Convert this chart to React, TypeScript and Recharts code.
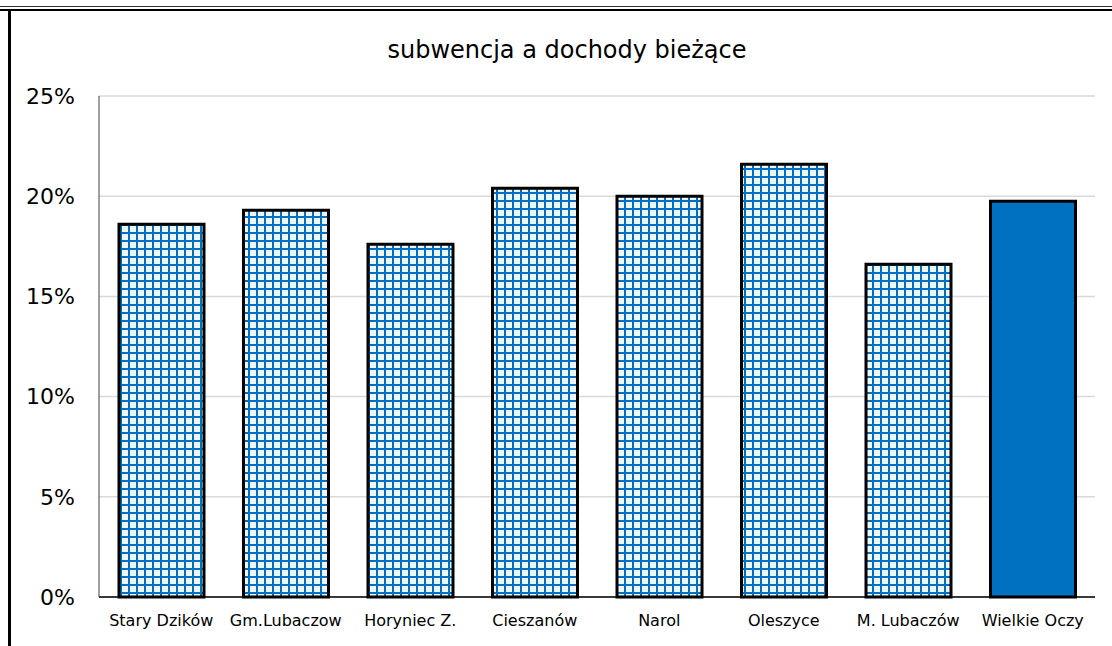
import React from 'react'
import { BarChart, Bar, XAxis, YAxis, CartesianGrid, Cell } from 'recharts'

const gminy = ['Stary Dzików', 'Gm.Lubaczow', 'Horyniec Z.', 'Cieszanów', 'Narol', 'Oleszyce', 'M. Lubaczów', 'Wielkie Oczy']
const udzial = [0.186, 0.193, 0.176, 0.204, 0.2, 0.216, 0.166, 0.1975]
const yTicks = [0, 0.05, 0.1, 0.15, 0.2, 0.25]

const data = gminy.map((name, i) => ({ name, value: udzial[i] }))

const FONT = '"DejaVu Sans", Tahoma, sans-serif'
const BLUE = '#0070C0'

export default function App() {
  return (
    <div style={{ position: 'fixed', left: 0, top: 0, width: 1112, height: 646, background: '#fff', overflow: 'hidden' }}>
      {/* frame lines */}
      <div style={{ position: 'absolute', left: 0, top: 6, width: 1112, height: 1, background: '#333' }} />
      <div style={{ position: 'absolute', left: 0, top: 9, width: 1112, height: 2, background: '#000' }} />
      <div style={{ position: 'absolute', left: 8, top: 9, width: 3, height: 700, background: '#000' }} />

      <div
        style={{
          position: 'absolute',
          left: 0,
          top: 35,
          width: 1134,
          textAlign: 'center',
          fontFamily: FONT,
          fontSize: 24,
          lineHeight: '30px',
          color: '#000'
        }}
      >
        subwencja a dochody bieżące
      </div>

      <BarChart
        width={1112}
        height={646}
        data={data}
        margin={{ top: 96, right: 17, bottom: 19, left: 0 }}
        barSize={85}
        style={{ position: 'absolute', left: 0, top: 0 }}
      >
        <defs>
          <pattern id="kratka" width="8" height="8" patternUnits="userSpaceOnUse">
            <rect x="0" y="0" width="8" height="8" fill="#eef6fc" />
            <rect x="0" y="0" width="8" height="2" fill={BLUE} />
            <rect x="0" y="0" width="2" height="8" fill={BLUE} />
          </pattern>
        </defs>
        <CartesianGrid vertical={false} stroke="#d9d9d9" strokeWidth={1.5} />
        <XAxis
          dataKey="name"
          height={30}
          tickLine={false}
          tickSize={0}
          tickMargin={18}
          axisLine={{ stroke: '#000', strokeWidth: 1.5 }}
          interval={0}
          tick={{ fill: '#000', fontSize: 16, fontFamily: FONT }}
        />
        <YAxis
          width={99}
          domain={[0, 0.25]}
          ticks={yTicks}
          tickFormatter={(v: number) => `${Math.round(v * 100)}%`}
          tickLine={false}
          tickSize={0}
          tickMargin={24}
          axisLine={{ stroke: '#404040', strokeWidth: 1 }}
          tick={{ fill: '#000', fontSize: 22, fontFamily: FONT }}
        />
        <Bar dataKey="value" stroke="#000" strokeWidth={3} isAnimationActive={false}>
          {data.map((d, i) => (
            <Cell key={d.name} fill={i === data.length - 1 ? BLUE : 'url(#kratka)'} />
          ))}
        </Bar>
      </BarChart>
    </div>
  )
}
